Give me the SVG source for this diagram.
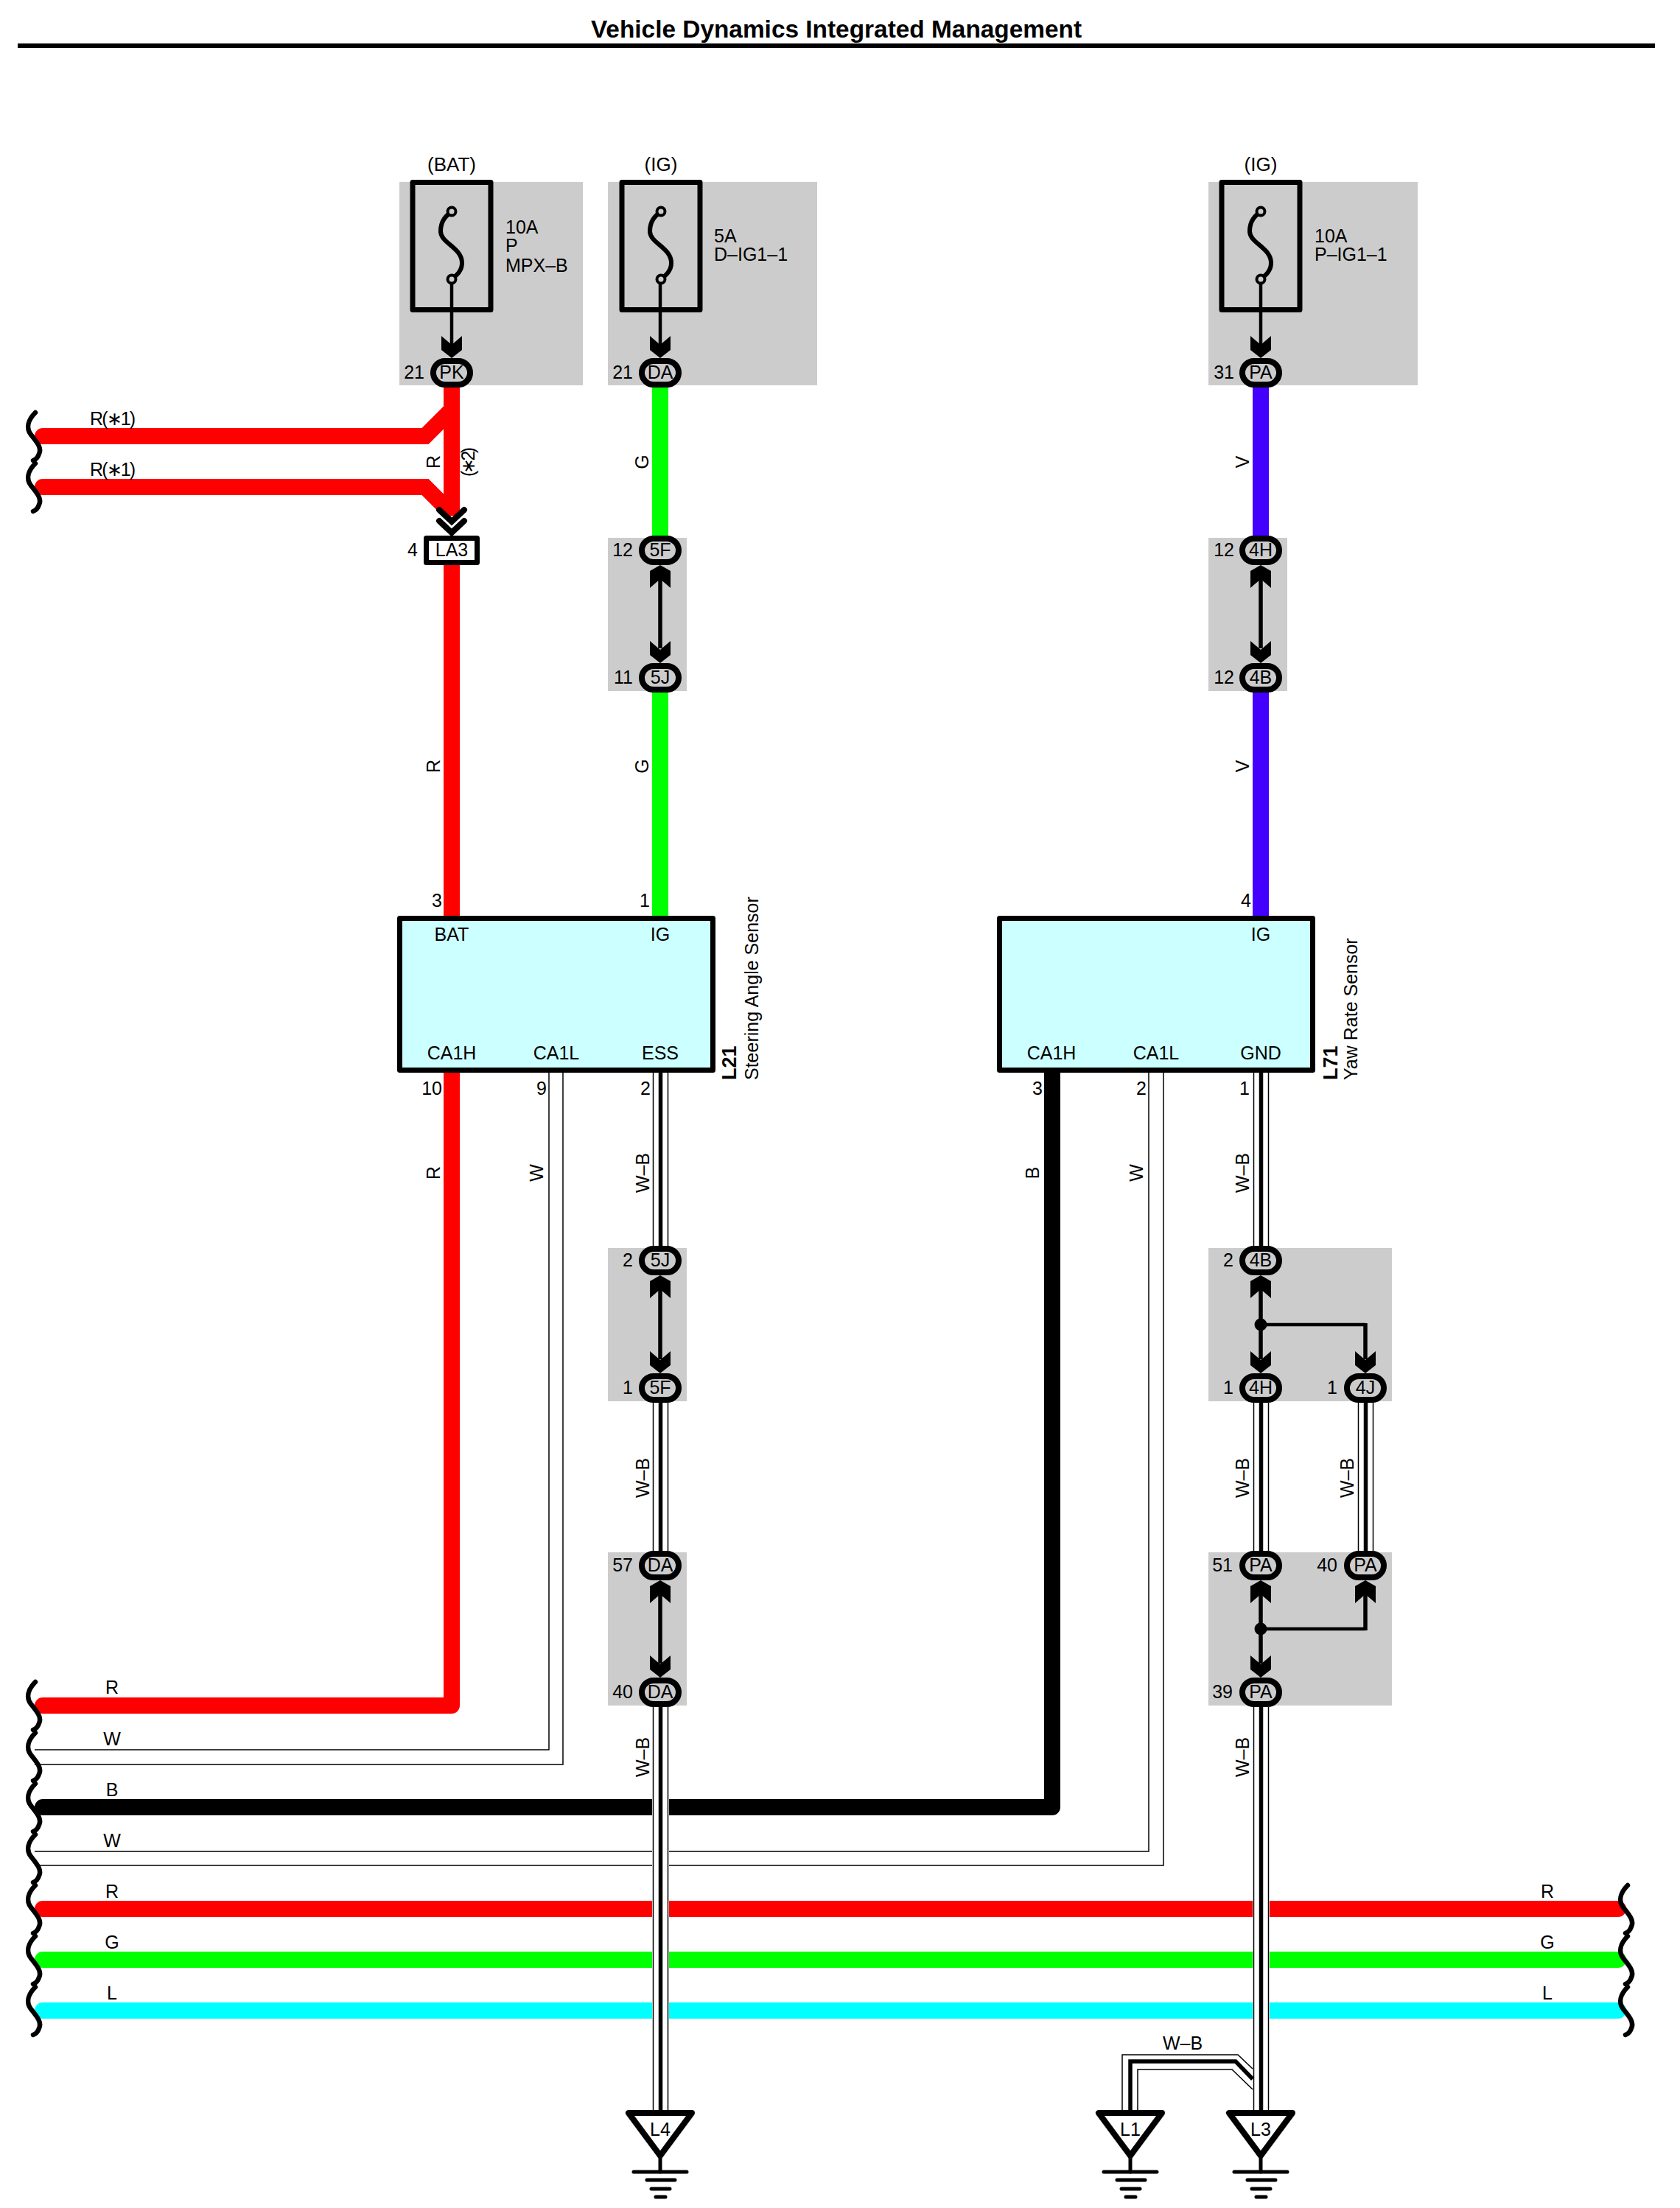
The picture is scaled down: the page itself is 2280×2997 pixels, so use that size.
<svg xmlns="http://www.w3.org/2000/svg" width="2280" height="2997" viewBox="0 0 2280 2997">
<style>
text{font-family:"Liberation Sans",Arial,sans-serif;font-size:25px;fill:#000}
.m{text-anchor:middle}.e{text-anchor:end}.b{font-weight:bold}
.sh{fill:#ccc}
.w{fill:none;stroke-width:22;stroke-linejoin:round;stroke-linecap:round}
.wm{fill:none;stroke-width:22;stroke-linejoin:miter}
.wc{fill:none;stroke-width:22;stroke-linejoin:miter;stroke-linecap:round}
.t{fill:none;stroke:#000;stroke-width:1.5}
.h{fill:none;stroke:#fff;stroke-width:23}
.k{fill:none;stroke:#000;stroke-width:5.5}
.l{fill:none;stroke:#000;stroke-width:4.5}
.f{fill:none;stroke:#000;stroke-width:7;stroke-linejoin:round}
.c{fill:#ccc;stroke:#000;stroke-width:8}
.br{fill:none;stroke:#000;stroke-width:6.5;stroke-linecap:round}
.ecu{fill:#cff;stroke:#000;stroke-width:7;stroke-linejoin:round}
.g{fill:none;stroke:#000;stroke-width:5;stroke-linecap:round}
</style>
<defs>
<path id="ad" d="M-14,-30 L0,-18 L14,-30 V-11 L0,0 L-14,-11Z"/>
<path id="au" d="M-14,31 L0,19 L14,31 V8 L0,0 L-14,8Z"/>
<path id="brk" d="M48,-32 C38,-22 35,-11 42,-2 C50,8 57,16 53,24 C51,30 48,32 45,33" class="br"/>
<rect id="oval" x="-25" y="-16" width="50" height="32" rx="16" ry="16" class="c"/>
<g id="fuse">
<rect x="-53" y="-172.5" width="106" height="173" class="f"/>
<path d="M0,-133 C-8,-127 -15,-120 -15,-106 C-15,-90 14,-84 14,-63 C14,-52 6,-46 0,-41" fill="none" stroke="#000" stroke-width="6"/>
<circle cx="0" cy="-133" r="5.5" fill="#ccc" stroke="#000" stroke-width="4"/>
<circle cx="0" cy="-41" r="5.5" fill="#ccc" stroke="#000" stroke-width="4"/>
</g>
<g id="gnd">
<path d="M-43,4 H43 L0,62Z" fill="#fff" stroke="#000" stroke-width="8" stroke-linejoin="round"/>
<path d="M0,62 V84" class="g"/>
<path d="M-36,84 H36M-18,95 H20M-12,107 H13M-6,118 H7" class="g"/>
</g>
</defs>
<rect width="2280" height="2997" fill="#fff"/>
<g id="title">
<text x="1135" y="51" class="m b" style="font-size:33.4px">Vehicle Dynamics Integrated Management</text>
<rect x="24" y="59" width="2222" height="6" fill="#000"/>
</g>
<g id="backgrounds">
<rect class="sh" x="542" y="247" width="249" height="276"/>
<rect class="sh" x="825" y="247" width="284" height="276"/>
<rect class="sh" x="1640" y="247" width="284" height="276"/>
<rect class="sh" x="825" y="730" width="107" height="208"/>
<rect class="sh" x="1640" y="730" width="107" height="208"/>
<rect class="sh" x="825" y="1694" width="107" height="208"/>
<rect class="sh" x="1640" y="1694" width="249" height="208"/>
<rect class="sh" x="825" y="2107" width="107" height="208"/>
<rect class="sh" x="1640" y="2107" width="249" height="208"/>
</g>
<g id="connectors">
<path class="w" stroke="#f00" d="M58,2591H2196"/>
<path class="w" stroke="#0f0" d="M58,2660H2196"/>
<path class="w" stroke="#0ff" d="M58,2729H2196"/>
<path class="w" stroke="#f00" d="M58,2315H613V1456"/>
<path class="t" d="M47,2375H745V1456M47,2395H764V1456"/>
<path class="w" stroke="#000" d="M58,2453H1428V1456"/>
<path class="t" d="M47,2513H1559V1456M47,2532H1579V1456"/>
<path class="wm" stroke="#f00" d="M613,526V700"/>
<path class="wc" stroke="#f00" d="M58,592H577L613,556"/>
<path class="wc" stroke="#f00" d="M58,661H577L607,691"/>
<path class="wm" stroke="#f00" d="M613,767V1243"/>
<path class="wm" stroke="#0f0" d="M896,526V730M896,938V1243"/>
<path class="wm" stroke="#40f" d="M1711,526V730M1711,938V1243"/>
<g id="wb" transform="translate(0.5,0)">
<path class="h" d="M896,1456V1692M896,1904V2105M896,2317V2864M1711,1456V1692M1711,1904V2105M1853,1904V2105M1711,2317V2864"/>
<path class="t" d="M886,1456V1692M906,1456V1692M886,1904V2105M906,1904V2105M886,2317V2864M906,2317V2864M1701,1456V1692M1721,1456V1692M1701,1904V2105M1721,1904V2105M1843,1904V2105M1863,1904V2105M1701,2317V2864M1721,2317V2864"/>
<path class="k" d="M896,1456V1692M896,1904V2105M896,2317V2864M1711,1456V1692M1711,1904V2105M1853,1904V2105M1711,2317V2864"/>
</g>
<g id="wb-l1">
<path class="t" d="M1523,2864V2789H1680L1700,2808M1544,2864V2809H1672L1700,2836"/>
<path class="k" d="M1534,2864V2798H1677L1700,2822"/>
</g>
<path class="l" d="M613,379V470M896,379V470M1711,379V470"/>
<path class="k" d="M896,780V880M1711,780V880M896,1745V1845M1711,1745V1845M896,2158V2258M1711,2158V2258M1853,1796V1845M1853,2158V2213"/>
<path class="l" d="M1711,1798H1853M1711,2211H1853"/>
<circle cx="1711" cy="1798" r="8.5"/>
<circle cx="1711" cy="2211" r="8.5"/>
<use href="#ad" x="613" y="486"/><use href="#ad" x="896" y="486"/><use href="#ad" x="1711" y="486"/>
<use href="#au" x="896" y="767"/><use href="#ad" x="896" y="900"/>
<use href="#au" x="1711" y="767"/><use href="#ad" x="1711" y="900"/>
<use href="#au" x="896" y="1731"/><use href="#ad" x="896" y="1864"/>
<use href="#au" x="896" y="2145"/><use href="#ad" x="896" y="2277"/>
<use href="#au" x="1711" y="1731"/><use href="#ad" x="1711" y="1864"/><use href="#ad" x="1853" y="1864"/>
<use href="#au" x="1711" y="2145"/><use href="#au" x="1853" y="2145"/><use href="#ad" x="1711" y="2277"/>
<path d="M596,692L613,708L630,692M596,707L613,723L630,707" fill="none" stroke="#000" stroke-width="8" stroke-linecap="round"/>
</g>
<g id="breaks-left">
<use href="#brk" y="592"/><use href="#brk" y="661"/>
<use href="#brk" y="2315"/><use href="#brk" y="2384"/><use href="#brk" y="2453"/><use href="#brk" y="2522"/><use href="#brk" y="2591"/><use href="#brk" y="2660"/><use href="#brk" y="2729"/>
</g>
<g id="breaks-right">
<use href="#brk" x="2161" y="2591"/><use href="#brk" x="2161" y="2660"/><use href="#brk" x="2161" y="2729"/>
</g>
<g id="fuse-bat"><use href="#fuse" x="613" y="420"/><text x="613" y="232" class="m" style="font-size:26px">(BAT)</text><text x="686" y="317">10A</text><text x="686" y="342">P</text><text x="686" y="369">MPX–B</text></g>
<g id="fuse-ig1"><use href="#fuse" x="897" y="420"/><text x="897" y="232" class="m" style="font-size:26px">(IG)</text><text x="969" y="329">5A</text><text x="969" y="354">D–IG1–1</text></g>
<g id="fuse-ig2"><use href="#fuse" x="1711" y="420"/><text x="1711" y="232" class="m" style="font-size:26px">(IG)</text><text x="1784" y="329">10A</text><text x="1784" y="354">P–IG1–1</text></g>
<g id="conn-PK"><use href="#oval" x="613" y="506"/><text x="613" y="514" class="m">PK</text><text x="576" y="514" class="e">21</text></g>
<g id="conn-DA1"><use href="#oval" x="896" y="506"/><text x="896" y="514" class="m">DA</text><text x="859" y="514" class="e">21</text></g>
<g id="conn-PA1"><use href="#oval" x="1711" y="506"/><text x="1711" y="514" class="m">PA</text><text x="1675" y="514" class="e">31</text></g>
<g id="conn-LA3"><rect x="578.5" y="730.5" width="69" height="33" fill="#fff" stroke="#000" stroke-width="7" stroke-linejoin="round"/><text x="613" y="755" class="m">LA3</text><text x="567" y="755" class="e">4</text></g>
<g id="conn-5F1"><use href="#oval" x="896" y="747"/><text x="896" y="755" class="m">5F</text><text x="859" y="755" class="e">12</text></g>
<g id="conn-5J1"><use href="#oval" x="896" y="920"/><text x="896" y="928" class="m">5J</text><text x="859" y="928" class="e">11</text></g>
<g id="conn-4H1"><use href="#oval" x="1711" y="747"/><text x="1711" y="755" class="m">4H</text><text x="1675" y="755" class="e">12</text></g>
<g id="conn-4B1"><use href="#oval" x="1711" y="920"/><text x="1711" y="928" class="m">4B</text><text x="1675" y="928" class="e">12</text></g>
<g id="conn-5J2"><use href="#oval" x="896" y="1711"/><text x="896" y="1719" class="m">5J</text><text x="859" y="1719" class="e">2</text></g>
<g id="conn-5F2"><use href="#oval" x="896" y="1884"/><text x="896" y="1892" class="m">5F</text><text x="859" y="1892" class="e">1</text></g>
<g id="conn-DA2"><use href="#oval" x="896" y="2125"/><text x="896" y="2133" class="m">DA</text><text x="859" y="2133" class="e">57</text></g>
<g id="conn-DA3"><use href="#oval" x="896" y="2297"/><text x="896" y="2305" class="m">DA</text><text x="859" y="2305" class="e">40</text></g>
<g id="conn-4B2"><use href="#oval" x="1711" y="1711"/><text x="1711" y="1719" class="m">4B</text><text x="1674" y="1719" class="e">2</text></g>
<g id="conn-4H2"><use href="#oval" x="1711" y="1884"/><text x="1711" y="1892" class="m">4H</text><text x="1674" y="1892" class="e">1</text></g>
<g id="conn-4J"><use href="#oval" x="1853" y="1884"/><text x="1853" y="1892" class="m">4J</text><text x="1815" y="1892" class="e">1</text></g>
<g id="conn-PA51"><use href="#oval" x="1711" y="2125"/><text x="1711" y="2133" class="m">PA</text><text x="1673" y="2133" class="e">51</text></g>
<g id="conn-PA40"><use href="#oval" x="1853" y="2125"/><text x="1853" y="2133" class="m">PA</text><text x="1815" y="2133" class="e">40</text></g>
<g id="conn-PA39"><use href="#oval" x="1711" y="2297"/><text x="1711" y="2305" class="m">PA</text><text x="1673" y="2305" class="e">39</text></g>
<g id="L21">
<rect class="ecu" x="542.5" y="1246.5" width="425" height="206"/>
<text x="613" y="1277" class="m">BAT</text><text x="896" y="1277" class="m">IG</text>
<text x="613" y="1438" class="m">CA1H</text><text x="755" y="1438" class="m">CA1L</text><text x="896" y="1438" class="m">ESS</text>
<text x="600" y="1231" class="e">3</text><text x="882" y="1231" class="e">1</text>
<text x="600" y="1486" class="e">10</text><text x="742" y="1486" class="e">9</text><text x="883" y="1486" class="e">2</text>
<text transform="translate(999,1466) rotate(-90)" class="b" style="font-size:27px">L21</text>
<text transform="translate(1029,1466) rotate(-90)">Steering Angle Sensor</text>
</g>
<g id="L71">
<rect class="ecu" x="1356.5" y="1246.5" width="425" height="206"/>
<text x="1711" y="1277" class="m">IG</text>
<text x="1427" y="1438" class="m">CA1H</text><text x="1569" y="1438" class="m">CA1L</text><text x="1711" y="1438" class="m">GND</text>
<text x="1698" y="1231" class="e">4</text>
<text x="1415" y="1486" class="e">3</text><text x="1556" y="1486" class="e">2</text><text x="1696" y="1486" class="e">1</text>
<text transform="translate(1815,1466) rotate(-90)" class="b" style="font-size:27px">L71</text>
<text transform="translate(1842,1466) rotate(-90)">Yaw Rate Sensor</text>
</g>
<g id="L4"><use href="#gnd" x="896" y="2864"/><text x="896" y="2899" class="m">L4</text></g>
<g id="L1"><use href="#gnd" x="1534" y="2864"/><text x="1534" y="2899" class="m">L1</text></g>
<g id="L3"><use href="#gnd" x="1711" y="2864"/><text x="1711" y="2899" class="m">L3</text></g>
<g id="wire-labels">
<text x="122" y="577" textLength="62">R(∗1)</text><text x="122" y="646" textLength="62">R(∗1)</text>
<text transform="translate(597,627) rotate(-90)" class="m">R</text>
<text transform="translate(644,627) rotate(-90)" x="-20" textLength="40">(∗2)</text>
<text transform="translate(880,627) rotate(-90)" class="m">G</text>
<text transform="translate(1695,627) rotate(-90)" class="m">V</text>
<text transform="translate(597,1040) rotate(-90)" class="m">R</text>
<text transform="translate(880,1040) rotate(-90)" class="m">G</text>
<text transform="translate(1695,1040) rotate(-90)" class="m">V</text>
<text transform="translate(597,1592) rotate(-90)" class="m">R</text>
<text transform="translate(737,1592) rotate(-90)" class="m">W</text>
<text transform="translate(881,1592) rotate(-90)" class="m">W–B</text>
<text transform="translate(1410,1592) rotate(-90)" class="m">B</text>
<text transform="translate(1551,1592) rotate(-90)" class="m">W</text>
<text transform="translate(1695,1592) rotate(-90)" class="m">W–B</text>
<text transform="translate(881,2006) rotate(-90)" class="m">W–B</text>
<text transform="translate(1695,2006) rotate(-90)" class="m">W–B</text>
<text transform="translate(1837,2006) rotate(-90)" class="m">W–B</text>
<text transform="translate(881,2385) rotate(-90)" class="m">W–B</text>
<text transform="translate(1695,2385) rotate(-90)" class="m">W–B</text>
<text x="152" y="2299" class="m">R</text><text x="152" y="2369" class="m">W</text><text x="152" y="2438" class="m">B</text><text x="152" y="2507" class="m">W</text><text x="152" y="2576" class="m">R</text><text x="152" y="2645" class="m">G</text><text x="152" y="2714" class="m">L</text>
<text x="2100" y="2576" class="m">R</text><text x="2100" y="2645" class="m">G</text><text x="2100" y="2714" class="m">L</text>
<text x="1605" y="2782" class="m">W–B</text>
</g>
</svg>
